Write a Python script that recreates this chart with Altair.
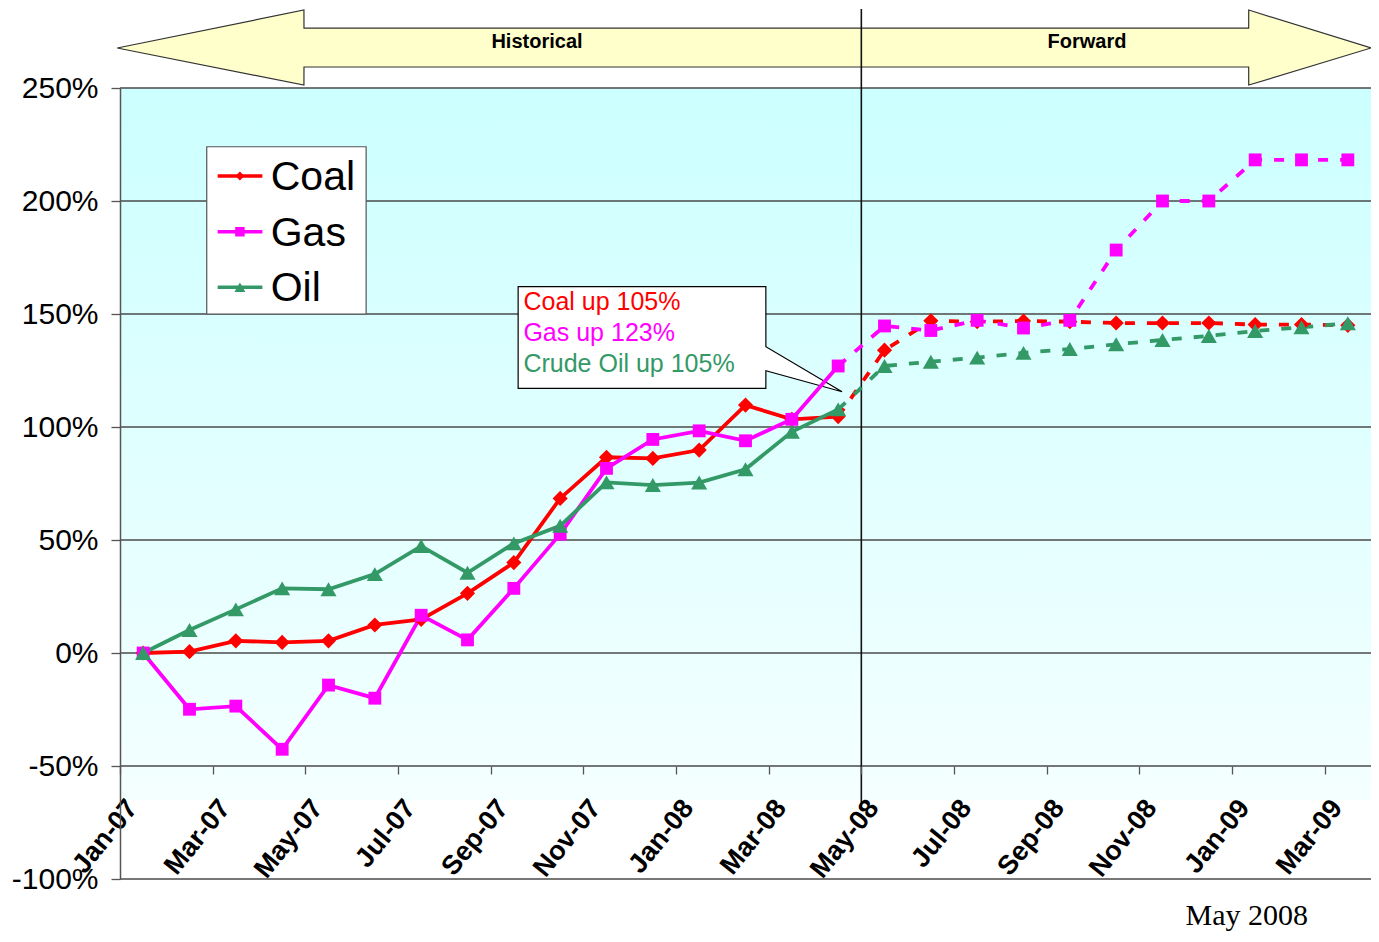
import altair as alt
import pandas as pd

# ---------------- data ----------------
months = ["Jan-07", "Feb-07", "Mar-07", "Apr-07", "May-07", "Jun-07", "Jul-07", "Aug-07",
          "Sep-07", "Oct-07", "Nov-07", "Dec-07", "Jan-08", "Feb-08", "Mar-08", "Apr-08",
          "May-08", "Jun-08", "Jul-08", "Aug-08", "Sep-08", "Oct-08", "Nov-08", "Dec-08",
          "Jan-09", "Feb-09", "Mar-09"]
tick_labels = ["Jan-07", "Mar-07", "May-07", "Jul-07", "Sep-07", "Nov-07", "Jan-08",
               "Mar-08", "May-08", "Jul-08", "Sep-08", "Nov-08", "Jan-09", "Mar-09"]
y_ticks = [-100, -50, 0, 50, 100, 150, 200, 250]

series = ["Coal", "Gas", "Oil"]
colors = ["#FF0000", "#FF00FF", "#339966"]
shapes = ["diamond", "square", "triangle-up"]

# historical (Jan-07 .. Apr-08), % change
coal_hist = [0, 0.6, 5.4, 4.7, 5.4, 12.4, 14.9, 26.4, 40.0, 68.4, 86.6, 86.1, 89.8, 109.7, 103.4, 104.6]
gas_hist = [0, -24.9, -23.5, -42.6, -14.2, -20.0, 16.7, 5.8, 28.6, 52.6, 81.7, 94.5, 98.3, 93.9, 103.4, 127.0]
oil_hist = [0, 10.2, 19.3, 28.6, 28.2, 34.9, 47.3, 35.5, 48.5, 56.3, 75.5, 74.3, 75.4, 81.3, 97.9, 107.8]

# forward (May-08 .. Mar-09), % change
coal_fwd = [134.0, 147.0, 146.6, 146.9, 146.6, 146.0, 146.0, 146.0, 145.3, 145.3, 145.0]
gas_fwd = [144.7, 142.7, 147.2, 143.8, 147.2, 178.3, 200.0, 200.0, 218.2, 218.2, 218.2]
oil_fwd = [127.0, 128.9, 130.7, 132.8, 134.5, 136.6, 138.5, 140.3, 142.5, 144.1, 145.9]

callout_lines = ["Coal up 105%", "Gas up 123%", "Crude Oil up 105%"]
period_labels = ["Historical", "Forward"]
date_note = "May 2008"

hist = {"Coal": coal_hist, "Gas": gas_hist, "Oil": oil_hist}
fwd = {"Coal": coal_fwd, "Gas": gas_fwd, "Oil": oil_fwd}
n_hist = len(coal_hist)

hist_rows, fwd_line_rows, fwd_pt_rows = [], [], []
for s in series:
    for i, v in enumerate(hist[s]):
        hist_rows.append({"x": i + 0.5, "y": v, "s": s, "month": months[i]})
    fwd_line_rows.append({"x": n_hist - 1 + 0.5, "y": hist[s][-1], "s": s, "month": months[n_hist - 1]})
    for j, v in enumerate(fwd[s]):
        r = {"x": n_hist + j + 0.5, "y": v, "s": s, "month": months[n_hist + j]}
        fwd_line_rows.append(r)
        fwd_pt_rows.append(r)
hist_df = pd.DataFrame(hist_rows)
fwd_line_df = pd.DataFrame(fwd_line_rows)
fwd_pt_df = pd.DataFrame(fwd_pt_rows)
pts_df = pd.concat([hist_df, fwd_pt_df], ignore_index=True)

# ---------------- scales / axes ----------------
label_expr = "[" + ",".join("'%s'" % t for t in tick_labels) + "][round(datum.value/2)]"

X = alt.X("x:Q",
          scale=alt.Scale(domain=[0, len(months)], nice=False, zero=False),
          axis=alt.Axis(values=list(range(0, len(months), 2)), labelExpr=label_expr,
                        labelAngle=-51, labelAlign="right", labelBaseline="middle",
                        labelFont="Arial", labelFontWeight="bold", labelFontSize=27,
                        labelColor="black", labelPadding=29, labelOffset=12,
                        labelFlush=False, labelOverlap=False, labelBound=False,
                        tickSize=8, tickColor="#555555", tickWidth=1.3,
                        domain=False, grid=False, offset=-113, title=None, zindex=1))
Y = alt.Y("y:Q",
          scale=alt.Scale(domain=[-100, 250], nice=False, zero=False),
          axis=alt.Axis(values=y_ticks, labelExpr="datum.value + '%'",
                        labelFont="Arial", labelFontSize=30, labelColor="black",
                        labelPadding=13, labelFlush=False, tickSize=9,
                        tickColor="#555555", tickWidth=1.3,
                        domainColor="#555555", domainWidth=1.5,
                        grid=False, title=None, zindex=1))
X2 = alt.X2("x2:Q")
Y2 = alt.Y2("y2:Q")
C = alt.Color("s:N", scale=alt.Scale(domain=series, range=colors), legend=None)

marker_size = {"Coal": 230, "Gas": 165, "Oil": 260}
legend_marker_size = {"Coal": 80, "Gas": 90, "Oil": 120}

# ---------------- annotation geometry (data coordinates) ----------------
bg_df = pd.DataFrame({"x": [0.0], "x2": [float(len(months))], "y": [250.0], "y2": [-100.0]})
grid_df = pd.DataFrame({"x": [0.0] * len(y_ticks), "x2": [float(len(months))] * len(y_ticks),
                        "y": y_ticks})
arrow_df = pd.DataFrame({
    "x": [-0.06, 3.97, 3.971, 24.36, 24.361, 27.0],
    "y": [267.7, 284.5, 276.5, 276.5, 284.5, 267.7],
    "y2": [267.7, 251.3, 259.3, 259.3, 251.3, 267.7],
})
divider_df = pd.DataFrame({"x": [16.0], "y": [285.0], "y2": [-68.0]})
period_df = pd.DataFrame({"x": [9.0, 20.87], "y": [270.4, 270.4], "label": period_labels})

callout_df = pd.DataFrame({
    "x": [8.593, 13.939, 13.940, 15.584],
    "y": [162.1, 162.1, 135.5, 115.6],
    "y2": [117.1, 117.1, 124.9, 115.6],
})
callout_text_df = pd.DataFrame({"x": [8.707] * 3, "y": [155.3, 141.6, 127.9],
                                "label": callout_lines, "s": series})

legend_box_df = pd.DataFrame({"x": [1.872], "x2": [5.312], "y": [224.0], "y2": [150.0]})
leg_y = [211.1, 186.4, 161.8]
legend_line_df = pd.DataFrame({"x": [2.108] * 3, "x2": [3.073] * 3, "y": leg_y, "s": series})
legend_pt_df = pd.DataFrame({"x": [2.588] * 3, "y": leg_y, "s": series})
legend_txt_df = pd.DataFrame({"x": [3.253] * 3, "y": leg_y, "label": series})

note_df = pd.DataFrame({"x": [24.32], "y": [-116.5], "label": [date_note]})

gradient = alt.LinearGradient(
    gradient="linear", x1=0, y1=0, x2=0, y2=1,
    stops=[
        alt.GradientStop(offset=0, color="#CCFFFF"),
        alt.GradientStop(offset=0.9, color="#F4FFFF"),
        alt.GradientStop(offset=0.9, color="#FFFFFF"),
        alt.GradientStop(offset=1, color="#FFFFFF"),
    ],
)

# ---------------- layers ----------------
bg = alt.Chart(bg_df).mark_rect(color=gradient, opacity=1).encode(x=X, x2=X2, y=Y, y2=Y2)
grid = alt.Chart(grid_df).mark_rule(color="#4a4a4a", strokeWidth=1.3).encode(x=X, x2=X2, y=Y)
arrow = alt.Chart(arrow_df).mark_area(fill="#FFFFCC", stroke="#333333", strokeWidth=1.2,
                                      clip=False, opacity=1).encode(x=X, y=Y, y2=Y2)
divider = alt.Chart(divider_df).mark_rule(color="#111111", strokeWidth=1.6, clip=False).encode(x=X, y=Y, y2=Y2)
periods = alt.Chart(period_df).mark_text(font="Arial", fontWeight="bold", fontSize=20,
                                         color="black", clip=False).encode(x=X, y=Y, text="label:N")

callout = alt.Chart(callout_df).mark_area(fill="white", stroke="black", strokeWidth=1.2,
                                          opacity=1).encode(x=X, y=Y, y2=Y2)
callout_txt = alt.Chart(callout_text_df).mark_text(font="Arial", fontSize=25, align="left",
                                                   baseline="middle").encode(x=X, y=Y, text="label:N", color=C)

hist_lines = alt.Chart(hist_df).mark_line(strokeWidth=3.8).encode(x=X, y=Y, color=C, detail="s:N")
fwd_lines = alt.Chart(fwd_line_df).mark_line(strokeWidth=3.8, strokeDash=[10, 12]).encode(
    x=X, y=Y, color=C, detail="s:N")

point_layers = []
legend_point_layers = []
for s, shp in zip(series, shapes):
    point_layers.append(
        alt.Chart(pts_df).transform_filter(alt.datum.s == s)
        .mark_point(shape=shp, size=marker_size[s], filled=True, opacity=1)
        .encode(x=X, y=Y, color=C, tooltip=["s:N", "month:N", "y:Q"])
    )
    legend_point_layers.append(
        alt.Chart(legend_pt_df).transform_filter(alt.datum.s == s)
        .mark_point(shape=shp, size=legend_marker_size[s], filled=True, opacity=1)
        .encode(x=X, y=Y, color=C)
    )

legend_box = alt.Chart(legend_box_df).mark_rect(fill="white", stroke="#555555", strokeWidth=1.2).encode(
    x=X, x2=X2, y=Y, y2=Y2)
legend_lines = alt.Chart(legend_line_df).mark_rule(strokeWidth=3.5).encode(x=X, x2=X2, y=Y, color=C)
legend_txt = alt.Chart(legend_txt_df).mark_text(font="Arial", fontSize=41, align="left",
                                                baseline="middle", color="black", dy=2).encode(
    x=X, y=Y, text="label:N")

note = alt.Chart(note_df).mark_text(font="Times New Roman", fontSize=30, color="black",
                                    clip=False).encode(x=X, y=Y, text="label:N")

chart = alt.layer(
    bg, grid, arrow, divider, periods, callout, callout_txt,
    hist_lines, fwd_lines, *point_layers,
    legend_box, legend_lines, *legend_point_layers, legend_txt, note,
).properties(
    width=1251, height=791,
    autosize=alt.AutoSizeParams(type="none"),
    padding={"left": 112, "top": 80, "right": 0, "bottom": 52},
    background="white",
).configure_view(stroke="transparent")

chart.save("out.html", embed_options={"renderer": "svg", "actions": False})
